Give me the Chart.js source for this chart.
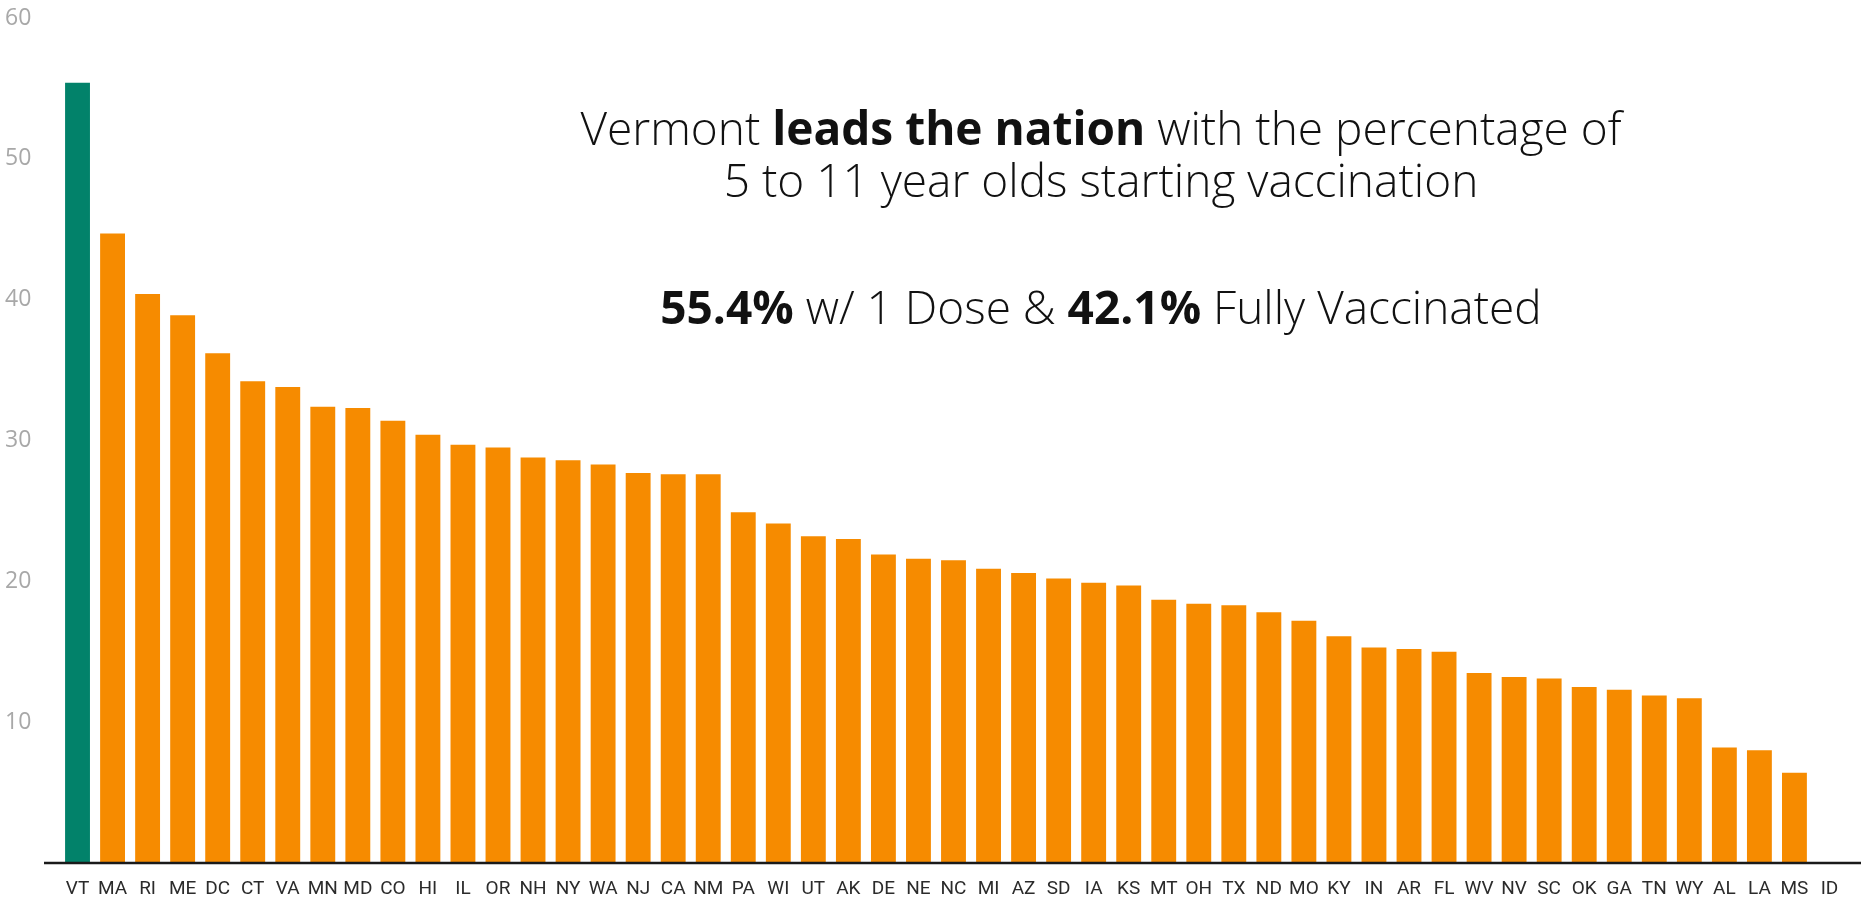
<!DOCTYPE html>
<html>
<head>
<meta charset="utf-8">
<title>Vermont leads the nation</title>
<script src="https://cdn.jsdelivr.net/npm/chart.js@4.4.1/dist/chart.umd.min.js"></script>
<style>
    html, body { margin: 0; padding: 0; background: #ffffff; }
    #wrap { position: relative; width: 1865px; height: 903px; }
    .note {
        position: absolute;
        left: 401px;
        width: 1400px;
        text-align: center;
        font-family: "Open Sans", sans-serif;
        font-weight: 300;
        font-size: 46px;
        line-height: 52px;
        color: #111111;
        white-space: nowrap;
    }
    .note b { font-weight: 700; }
</style>
</head>
<body>
<div id="wrap">
    <canvas id="chart"></canvas>
    <div class="note" style="top: 101px;">Vermont <b>leads the nation</b> with the percentage of<br>5 to 11 year olds starting vaccination</div>
    <div class="note" style="top: 280px;"><b>55.4%</b> w/ 1 Dose &amp; <b>42.1%</b> Fully Vaccinated</div>
</div>
<script>
const states = [
    'VT', 'MA', 'RI', 'ME', 'DC', 'CT', 'VA', 'MN', 'MD', 'CO', 'HI', 'IL', 'OR',
    'NH', 'NY', 'WA', 'NJ', 'CA', 'NM', 'PA', 'WI', 'UT', 'AK', 'DE', 'NE', 'NC',
    'MI', 'AZ', 'SD', 'IA', 'KS', 'MT', 'OH', 'TX', 'ND', 'MO', 'KY', 'IN', 'AR',
    'FL', 'WV', 'NV', 'SC', 'OK', 'GA', 'TN', 'WY', 'AL', 'LA', 'MS', 'ID',
];

// percent of 5-11 year olds with at least one dose (ID not reported)
const oneDosePct = [
    55.4, 44.7, 40.4, 38.9, 36.2, 34.2, 33.8, 32.4, 32.3, 31.4, 30.4, 29.7, 29.5,
    28.8, 28.6, 28.3, 27.7, 27.6, 27.6, 24.9, 24.1, 23.2, 23.0, 21.9, 21.6, 21.5,
    20.9, 20.6, 20.2, 19.9, 19.7, 18.7, 18.4, 18.3, 17.8, 17.2, 16.1, 15.3, 15.2,
    15.0, 13.5, 13.2, 13.1, 12.5, 12.3, 11.9, 11.7, 8.2, 8.0, 6.4, null,
];

const yTicks = [0, 10, 20, 30, 40, 50, 60];

const highlightState = 'VT';
const green = '#02826a';
const orange = '#f68b00';

const baseline = {
    id: 'baseline',
    afterDatasetsDraw(chart) {
        const { ctx, chartArea, scales } = chart;
        const y = scales.y.getPixelForValue(0);
        ctx.save();
        ctx.strokeStyle = '#1a1a1a';
        ctx.lineWidth = 2.5;
        ctx.beginPath();
        ctx.moveTo(chartArea.left - 16, y);
        ctx.lineTo(chartArea.right + 14, y);
        ctx.stroke();
        ctx.restore();
    },
};

new Chart(document.getElementById('chart').getContext('2d'), {
    type: 'bar',
    data: {
        labels: states,
        datasets: [{
            data: oneDosePct,
            backgroundColor: states.map(s => (s === highlightState ? green : orange)),
            borderWidth: 0,
            categoryPercentage: 1.0,
            barPercentage: 0.71,
        }],
    },
    options: {
        responsive: true,
        maintainAspectRatio: false,
        animation: false,
        layout: {
            padding: { top: 18, left: 5, right: 18, bottom: 0 },
        },
        plugins: {
            legend: { display: false },
            tooltip: { enabled: false },
        },
        scales: {
            x: {
                grid: { display: false, drawTicks: false },
                border: { display: false },
                ticks: {
                    color: '#2b2b2b',
                    padding: 15,
                    autoSkip: false,
                    maxRotation: 0,
                    font: { family: 'Roboto', size: 19 },
                },
                afterFit(scale) {
                    scale.height = 40;
                },
            },
            y: {
                min: yTicks[0],
                max: yTicks[yTicks.length - 1],
                grid: { display: false, drawTicks: false },
                border: { display: false },
                afterBuildTicks(scale) {
                    scale.ticks = yTicks.map(v => ({ value: v }));
                },
                afterFit(scale) {
                    scale.width = 55;
                },
                ticks: {
                    color: '#a8a8a8',
                    crossAlign: 'far',
                    font: { family: 'Open Sans', size: 23 },
                    callback: v => (v === 0 ? '' : v),
                },
            },
        },
    },
    plugins: [baseline],
});
</script>
</body>
</html>
